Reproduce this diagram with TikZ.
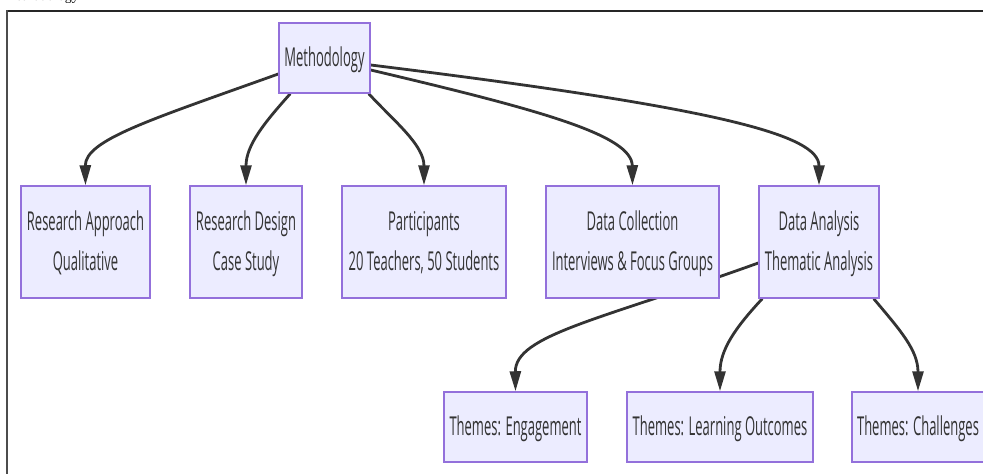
\documentclass[tikz,border=0pt]{standalone}
\usepackage{fontspec}
\setmainfont{Open Sans}
\newfontfamily\seriffont{Liberation Serif}
\usetikzlibrary{arrows.meta,backgrounds}
\definecolor{boxfill}{HTML}{ECECFF}
\definecolor{boxdraw}{HTML}{9370DB}
\definecolor{edgec}{HTML}{333333}
\newcommand{\lbl}[1]{\scalebox{0.5}[1]{\fontsize{26}{40}\selectfont\begin{tabular}{@{}c@{}}#1\end{tabular}}}
\begin{document}
\begin{tikzpicture}[x=1pt,y=-1pt,
  box/.style={draw=boxdraw, fill=boxfill, line width=1.5pt, inner sep=0pt, text=edgec},
  edge/.style={draw=edgec, line width=2.8pt, -{Triangle[length=20pt,width=11pt]}}]
\useasboundingbox (0,0) rectangle (983,474);
\clip (0,0) rectangle (983,474);
% frame
\draw[line width=2pt, black!85] (6,10.5) -- (983,10.5);
\draw[line width=2pt, black!70] (6.5,10) -- (6.5,474);
\node[anchor=base east, inner sep=0pt, font=\seriffont\fontsize{14}{16}\selectfont] (frag) at (79,0.8) {Methodology};
% nodes
\node[box, minimum width=91pt, minimum height=70pt] (meth) at (324.5,58) {\lbl{Methodology}};
\node[box, minimum width=129pt, minimum height=112pt] (ra) at (85.5,242) {\lbl{Research Approach\\Qualitative}};
\node[box, minimum width=112pt, minimum height=112pt] (rd) at (246,242) {\lbl{Research Design\\Case Study}};
\node[box, minimum width=164pt, minimum height=112pt] (pa) at (424,242) {\lbl{Participants\\20 Teachers, 50 Students}};
\node[box, minimum width=173pt, minimum height=112pt] (dc) at (632.5,242) {\lbl{Data Collection\\Interviews \& Focus Groups}};
\node[box, minimum width=120pt, minimum height=112pt] (da) at (819,242) {\lbl{Data Analysis\\Thematic Analysis}};
\node[box, minimum width=143pt, minimum height=70pt] (eng) at (515.5,427) {\lbl{Themes: Engagement}};
\node[box, minimum width=186pt, minimum height=70pt] (lo) at (720,427) {\lbl{Themes: Learning Outcomes}};
\node[box, minimum width=132pt, minimum height=70pt] (ch) at (918,427) {\lbl{Themes: Challenges}};
% edges
\begin{pgfonlayer}{background}
\draw[edge] ([yshift=-16pt]meth.west) .. controls (150,120) and (85,140) .. (ra.north);
\draw[edge] ([xshift=12pt]meth.south west) .. controls (265,122) and (246,145) .. (rd.north);
\draw[edge] ([xshift=-2pt]meth.south east) .. controls (395,122) and (424,145) .. (pa.north);
\draw[edge] ([yshift=-12pt]meth.east) .. controls (540,110) and (632,135) .. (dc.north);
\draw[edge] ([yshift=-7pt]meth.east) .. controls (720,108) and (819,135) .. (da.north);
\draw[edge] ([yshift=-21pt]da.west) .. controls (600,320) and (515,335) .. (eng.north);
\draw[edge] ([xshift=4pt]da.south west) .. controls (735,328) and (720,350) .. (lo.north);
\draw[edge] ([xshift=-6pt]da.south east) .. controls (900,330) and (918,350) .. (ch.north);
\end{pgfonlayer}
\end{tikzpicture}
\end{document}
